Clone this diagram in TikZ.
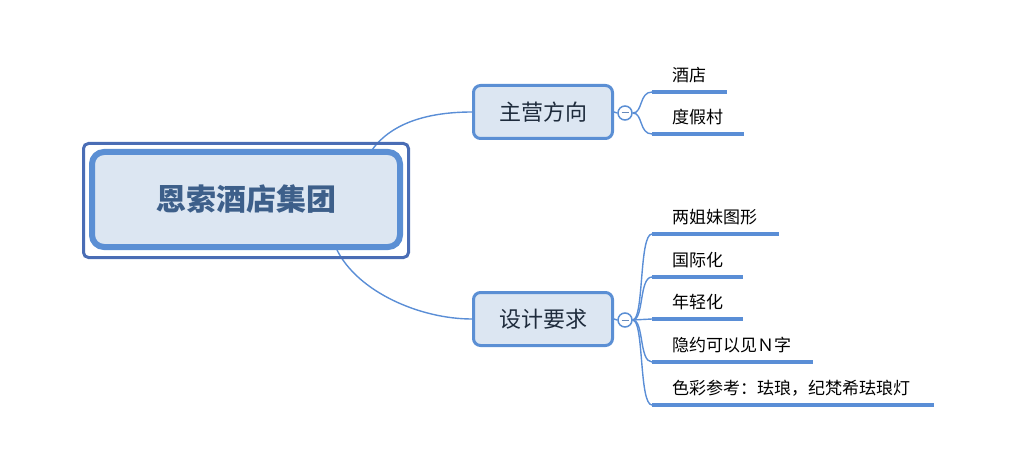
\documentclass[tikz,border=0pt]{standalone}
\usepackage{fontspec}
\setmainfont{Noto Sans CJK SC}
\definecolor{boxfill}{HTML}{DCE6F2}
\definecolor{boxline}{HTML}{5B8FD4}
\definecolor{outerline}{HTML}{4A6DB5}
\definecolor{linkc}{HTML}{5A8ED6}
\definecolor{ctext}{HTML}{3D5F8A}
\definecolor{ttext}{HTML}{1E2B3C}
\tikzset{
  centerouter/.style={draw=outerline, line width=3pt, rounded corners=5pt, minimum width=325pt, minimum height=114pt, inner sep=0pt},
  centerinner/.style={draw=boxline, fill=boxfill, line width=6pt, rounded corners=12pt, minimum width=308pt, minimum height=95pt, inner sep=0pt, font=\fontsize{30}{30}\selectfont\bfseries, text=ctext},
  topicbox/.style={draw=boxline, fill=boxfill, line width=3pt, rounded corners=7pt, minimum width=139pt, minimum height=53pt, inner sep=0pt, font=\fontsize{22}{22}\selectfont, text=ttext},
  collapse/.style={circle, draw=boxline, fill=white, line width=1.5pt, minimum size=14pt, inner sep=0pt},
  subtext/.style={anchor=west, inner sep=0pt, font=\fontsize{17}{17}\selectfont, text=black},
  link/.style={draw=linkc, line width=1.4pt},
  uline/.style={draw=linkc, line width=4pt},
}
\begin{document}
\begin{tikzpicture}[x=1pt,y=-1pt]
\useasboundingbox (0,0) rectangle (1024,473);
% connectors from central topic (drawn first, behind boxes)
\coordinate (c1) at (372,150);
\coordinate (c2) at (337,250);
\node[topicbox] (t1) at (543,112) {主营方向};
\node[topicbox] (t2) at (543,319) {设计要求};
\draw[link] (c1) .. controls (392,122) and (430,112) .. (t1.west);
\draw[link] (c2) .. controls (358,292) and (420,319) .. (t2.west);
\node[centerouter] (outer) at (246,200.5) {};
\node[centerinner] (center) at (246,199.5) {恩索酒店集团};
% collapse buttons
\node[collapse] (k1) at (625,113) {};
\node[collapse] (k2) at (625,320) {};
\draw[draw=boxline!70!gray, line width=1pt] ([xshift=-3.5pt]k1.center) -- ([xshift=3.5pt]k1.center);
\draw[draw=boxline!70!gray, line width=1pt] ([xshift=-3.5pt]k2.center) -- ([xshift=3.5pt]k2.center);
\draw[link] (t1.east) -- (k1.west);
\draw[link] (t2.east) -- (k2.west);
% sub topics of t1
\coordinate (a1s) at (652,92);  \coordinate (a1e) at (727,92);
\coordinate (a2s) at (652,134); \coordinate (a2e) at (744,134);
\node[subtext] (s1) at (672,75) {酒店};
\node[subtext] (s2) at (672,117) {度假村};
\draw[uline] (a1s) -- (a1e);
\draw[uline] (a2s) -- (a2e);
\draw[link] (k1.east) .. controls (643,113) and (639,92) .. (a1s);
\draw[link] (k1.east) .. controls (643,113) and (639,134) .. (a2s);
% sub topics of t2
\coordinate (b1s) at (652,234); \coordinate (b1e) at (779,234);
\coordinate (b2s) at (652,277); \coordinate (b2e) at (743,277);
\coordinate (b3s) at (652,319); \coordinate (b3e) at (743,319);
\coordinate (b4s) at (652,362); \coordinate (b4e) at (813,362);
\coordinate (b5s) at (652,405); \coordinate (b5e) at (934,405);
\node[subtext] (d1) at (672,217) {两姐妹图形};
\node[subtext] (d2) at (672,260) {国际化};
\node[subtext] (d3) at (672,302) {年轻化};
\node[subtext] (d4) at (672,345) {隐约可以见Ｎ字};
\node[subtext] (d5) at (672,388) {色彩参考：珐琅，纪梵希珐琅灯};
\draw[uline] (b1s) -- (b1e);
\draw[uline] (b2s) -- (b2e);
\draw[uline] (b3s) -- (b3e);
\draw[uline] (b4s) -- (b4e);
\draw[uline] (b5s) -- (b5e);
\draw[link] (k2.east) .. controls (644,320) and (639,234) .. (b1s);
\draw[link] (k2.east) .. controls (644,320) and (639,277) .. (b2s);
\draw[link] (k2.east) -- (b3s);
\draw[link] (k2.east) .. controls (644,320) and (639,362) .. (b4s);
\draw[link] (k2.east) .. controls (644,320) and (639,405) .. (b5s);
\end{tikzpicture}
\end{document}
